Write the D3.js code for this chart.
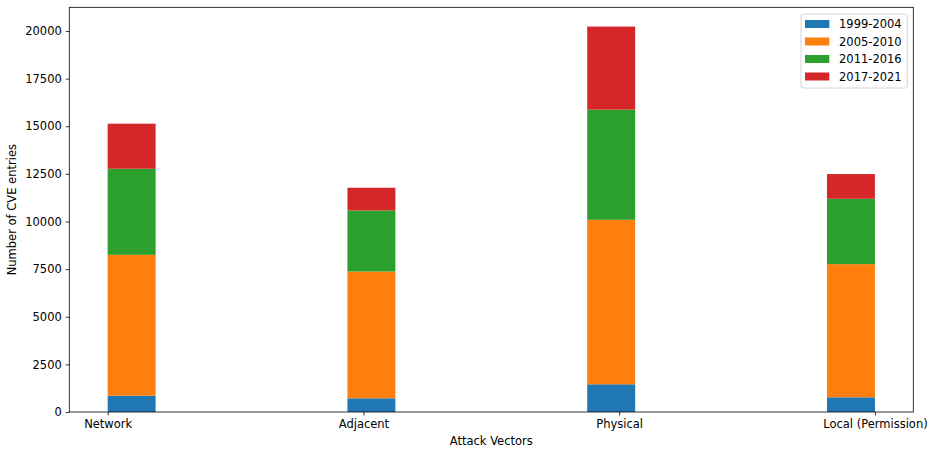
<!DOCTYPE html>
<html>
<head>
<meta charset="utf-8">
<script src="https://cdn.jsdelivr.net/npm/d3@7"></script>
<style>
  html, body { margin: 0; padding: 0; background: #fff; }
  svg { display: block; font-family: "DejaVu Sans", sans-serif; }
</style>
</head>
<body>
<svg id="chart" width="935" height="450"></svg>
<script>
// Attack vectors and CVE counts per period (stacked)
const categories = ["Network", "Adjacent", "Physical", "Local (Permission)"];
const periods = ["1999-2004", "2005-2010", "2011-2016", "2017-2021"];
const counts1999_2004 = [856, 720, 1454, 772];
const counts2005_2010 = [7394, 6653, 8635, 6989];
const counts2011_2016 = [4519, 3207, 5781, 3432];
const counts2017_2021 = [2365, 1191, 4361, 1297];
const yTicks = [0, 2500, 5000, 7500, 10000, 12500, 15000, 17500, 20000];
const colors = ["#1f77b4", "#ff7f0e", "#2ca02c", "#d62728"];

const seriesValues = [counts1999_2004, counts2005_2010, counts2011_2016, counts2017_2021];
const rows = categories.map((c, i) => {
  const r = { category: c, index: i };
  periods.forEach((p, k) => { r[p] = seriesValues[k][i]; });
  return r;
});
const stacked = d3.stack().keys(periods)(rows);

const barWidth = 0.2;
const margin = { left: 69.3, right: 935 - 913.3, top: 7.3, bottom: 450 - 412 };
const width = 935, height = 450;

const svg = d3.select("#chart");

const x = d3.scaleLinear().domain([-0.16, 3.36]).range([margin.left, width - margin.right]);
const yMax = d3.max(stacked[stacked.length - 1], d => d[1]) * 1.05;
const y = d3.scaleLinear().domain([0, yMax]).range([height - margin.bottom, margin.top]);

// Stacked bars, left edge at each category index
svg.append("g").selectAll("g")
  .data(stacked)
  .join("g")
  .attr("fill", (d, k) => colors[k])
  .selectAll("rect")
  .data(d => d)
  .join("rect")
  .attr("x", d => x(d.data.index))
  .attr("width", d => x(d.data.index + barWidth) - x(d.data.index))
  .attr("y", d => y(d[1]))
  .attr("height", d => y(d[0]) - y(d[1]));

// Category ticks spread across the bar groups
const tickPos = categories.map((c, i) => i + i * barWidth / 3);
const xAxis = d3.axisBottom(x)
  .tickValues(tickPos)
  .tickFormat((d, i) => categories[i])
  .tickSizeOuter(0)
  .tickSize(3.5)
  .tickPadding(4);
const gx = svg.append("g")
  .attr("transform", `translate(0,${height - margin.bottom})`)
  .call(xAxis);

const yAxis = d3.axisLeft(y)
  .tickValues(yTicks)
  .tickFormat(d3.format("d"))
  .tickSizeOuter(0)
  .tickSize(3.5)
  .tickPadding(4);
const gy = svg.append("g")
  .attr("transform", `translate(${margin.left},0)`)
  .call(yAxis);

[gx, gy].forEach(g => {
  g.select(".domain").remove();
  g.selectAll("text").attr("font-size", 11.5).attr("fill", "#000").attr("font-family", "DejaVu Sans, sans-serif");
  g.selectAll("line").attr("stroke", "#000").attr("stroke-width", 0.8);
});

// Plot frame
svg.append("rect")
  .attr("x", margin.left)
  .attr("y", margin.top)
  .attr("width", width - margin.right - margin.left)
  .attr("height", height - margin.bottom - margin.top)
  .attr("fill", "none")
  .attr("stroke", "#000")
  .attr("stroke-width", 0.8);

// Axis titles
svg.append("text")
  .attr("x", (margin.left + width - margin.right) / 2)
  .attr("y", 445)
  .attr("text-anchor", "middle")
  .attr("font-size", 11.5)
  .text("Attack Vectors");

svg.append("text")
  .attr("transform", `translate(16,${(margin.top + height - margin.bottom) / 2}) rotate(-90)`)
  .attr("text-anchor", "middle")
  .attr("font-size", 11.5)
  .text("Number of CVE entries");

// Legend
const legend = svg.append("g").attr("transform", "translate(801,14)");
legend.append("rect")
  .attr("width", 106.3)
  .attr("height", 74)
  .attr("rx", 2)
  .attr("fill", "#fff")
  .attr("fill-opacity", 0.8)
  .attr("stroke", "#ccc")
  .attr("stroke-width", 0.8);
const items = legend.selectAll("g.item")
  .data(periods)
  .join("g")
  .attr("class", "item")
  .attr("transform", (d, k) => `translate(0,${10 + k * 17.5})`);
items.append("rect")
  .attr("x", 4)
  .attr("y", -4)
  .attr("width", 24.3)
  .attr("height", 8)
  .attr("fill", (d, k) => colors[k]);
items.append("text")
  .attr("x", 38)
  .attr("y", 0)
  .attr("dy", "0.35em")
  .attr("font-size", 11.5)
  .text(d => d);
</script>
</body>
</html>
